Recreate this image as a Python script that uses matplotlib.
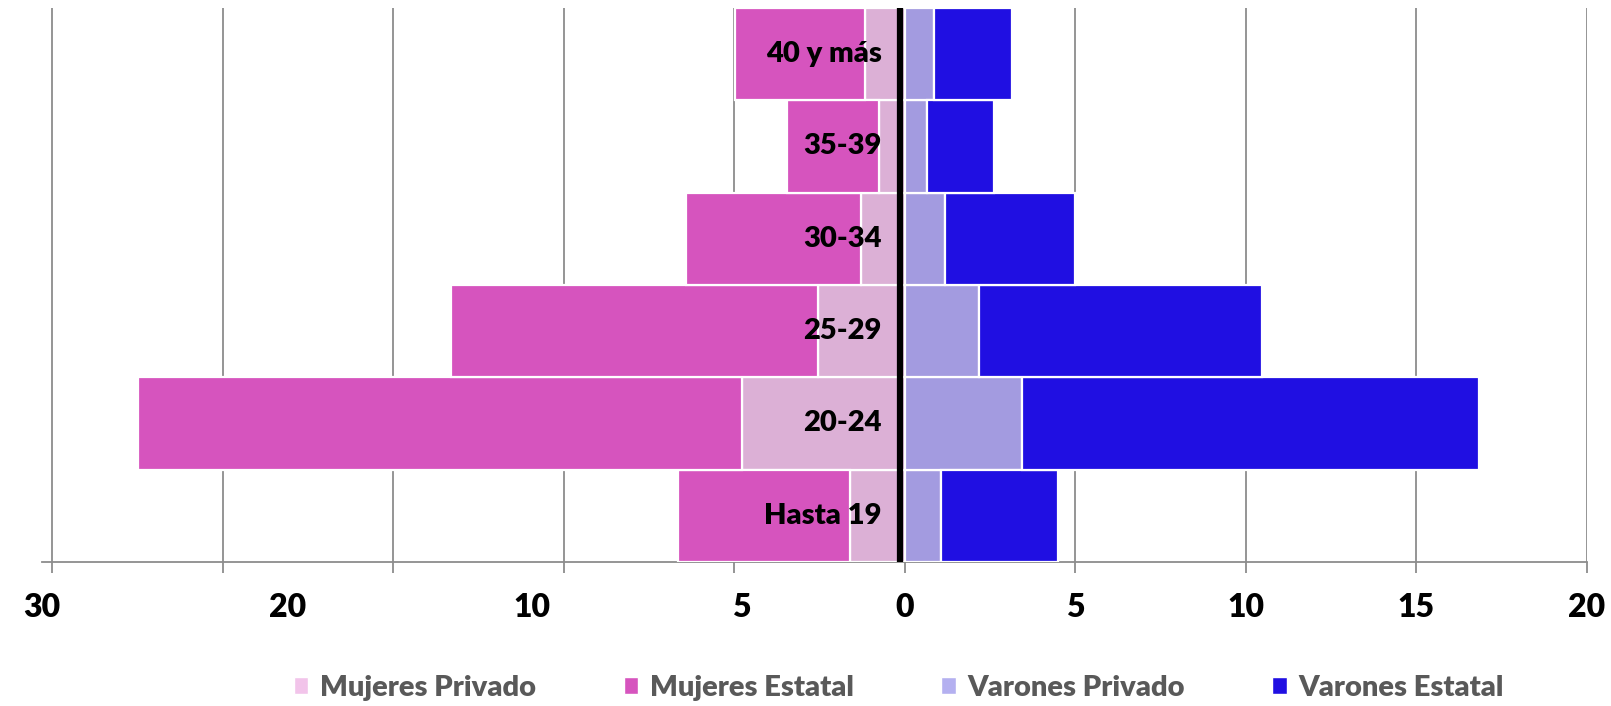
import matplotlib.pyplot as plt
from matplotlib.patches import Patch
import numpy as np

plt.rcParams['font.family'] = ['Lato', 'DejaVu Sans']

categorias = ['Hasta 19', '20-24', '25-29', '30-34', '35-39', '40 y más']
mujeres_privado = [1.62, 4.79, 2.54, 1.29, 0.75, 1.17]
mujeres_estatal = [5.03, 17.7, 10.78, 5.12, 2.72, 3.8]
varones_privado = [1.05, 3.44, 2.16, 1.17, 0.66, 0.84]
varones_estatal = [3.44, 13.4, 8.32, 3.83, 1.95, 2.3]

series = ['Mujeres Privado', 'Mujeres Estatal', 'Varones Privado', 'Varones Estatal']
colores_barra = ['#DCB0D6', '#D654BE', '#A39BE0', '#200FE2']
colores_leyenda = ['#F2C4EA', '#D654BE', '#B4B0F0', '#200FE2']

ticks_mayores = [-25, -20, -15, -10, -5, 0, 5, 10, 15, 20]
etiquetas_mayores = ['', '', '', '', '', '0', '5', '10', '15', '20']
# etiquetas desplazadas del lado izquierdo tal como aparecen en el original
ticks_menores = [-25.3, -18.1, -10.95, -4.8]
etiquetas_menores = ['30', '20', '10', '5']

fig = plt.figure(figsize=(16.11, 7.06), dpi=100)
ax = fig.add_axes([0.0261, 0.204, 0.959, 0.785])

y = np.arange(len(categorias))
mp = -np.array(mujeres_privado)
me = -np.array(mujeres_estatal)
vp = np.array(varones_privado)
ve = np.array(varones_estatal)

kw = dict(height=1.0, edgecolor='white', linewidth=1.6, zorder=3)
ax.barh(y, mp, color=colores_barra[0], **kw)
ax.barh(y, me, left=mp, color=colores_barra[1], **kw)
ax.barh(y, vp, color=colores_barra[2], **kw)
ax.barh(y, ve, left=vp, color=colores_barra[3], **kw)

ax.axvline(-0.14, color='black', lw=4.5, zorder=5, ymax=0.995)

for yi, cat in zip(y, categorias):
    ax.text(-0.68, yi, cat, ha='right', va='center', fontsize=21,
            fontweight='heavy', color='black', zorder=6)

ax.set_xlim(-25, 20)
ax.set_ylim(-0.5, 5.5)
ax.set_yticks([])

ax.set_xticks(ticks_mayores)
ax.set_xticklabels(etiquetas_mayores)
ax.set_xticks(ticks_menores, minor=True)
ax.set_xticklabels(etiquetas_menores, minor=True)
ax.tick_params(axis='x', which='major', length=8, width=1.3, color='#8c8c8c',
               labelsize=23, pad=14)
ax.tick_params(axis='x', which='minor', length=0, labelsize=23, pad=22)
for lab in ax.get_xticklabels() + ax.get_xticklabels(minor=True):
    lab.set_fontweight('heavy')

ax.grid(axis='x', which='major', color='#8c8c8c', lw=1.3, zorder=0)
for s in ['top', 'left', 'right']:
    ax.spines[s].set_visible(False)
ax.spines['bottom'].set_color('#8c8c8c')
ax.spines['bottom'].set_linewidth(1.3)

handles = [Patch(facecolor=c, edgecolor='white') for c in colores_leyenda]
leg = fig.legend(handles, series, loc='center', bbox_to_anchor=(0.558, 0.026),
                 ncol=4, frameon=False, handlelength=0.5, handleheight=0.5,
                 handletextpad=0.4, columnspacing=3.0,
                 prop={'weight': 'heavy', 'size': 21})
for t in leg.get_texts():
    t.set_color('#595959')

fig.savefig('out.png', dpi=100)
